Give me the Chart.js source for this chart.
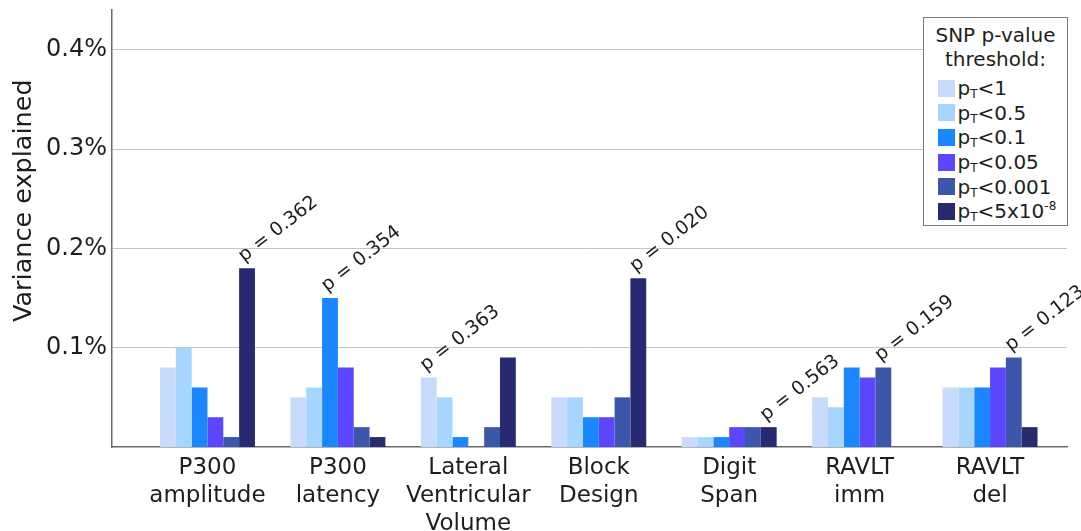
<!DOCTYPE html>
<html>
<head>
<meta charset="utf-8">
<script src="https://cdn.jsdelivr.net/npm/chart.js@4/dist/chart.umd.min.js"></script>
<style>
  html, body { margin: 0; padding: 0; background: #fff; }
  #wrap { position: relative; width: 1081px; height: 531px; overflow: hidden; }
  #legend {
    position: absolute; left: 923px; top: 17px; width: 145px; height: 209px;
    box-sizing: border-box; border: 1.5px solid #7a7a7a; background: #fff;
    font-family: 'DejaVu Sans', sans-serif; color: #1e1e1e;
  }
  #legend .title { font-size: 20px; line-height: 24px; text-align: center; padding-top: 5px; }
  #legend .row { display: flex; align-items: center; height: 24.6px; font-size: 20px; padding-left: 13.5px; }
  #legend .title + .row { margin-top: 5px; }
  #legend .sw { width: 17px; height: 17px; margin-right: 3px; flex: none; }
  #legend sub { font-size: 12px; vertical-align: -3px; line-height: 0; }
  #legend sup { font-size: 12px; vertical-align: 8px; line-height: 0; }
</style>
</head>
<body>
<div id="wrap">
  <canvas id="chart" width="1081" height="531"></canvas>
  <div id="legend"></div>
</div>
<script>
// Trait groups along the x axis (multi-line labels)
const categories = [
  ['P300', 'amplitude'],
  ['P300', 'latency'],
  ['Lateral', 'Ventricular', 'Volume'],
  ['Block', 'Design'],
  ['Digit', 'Span'],
  ['RAVLT', 'imm'],
  ['RAVLT', 'del']
];

// SNP p-value thresholds (one series each)
const thresholds = ['1', '0.5', '0.1', '0.05', '0.001', '5x10^-8'];

// Variance explained (%) per trait, one array per threshold
const varPT1     = [0.08, 0.05, 0.07, 0.05, 0.01, 0.05, 0.06];
const varPT05    = [0.10, 0.06, 0.05, 0.05, 0.01, 0.04, 0.06];
const varPT01    = [0.06, 0.15, 0.01, 0.03, 0.01, 0.08, 0.06];
const varPT005   = [0.03, 0.08, 0.00, 0.03, 0.02, 0.07, 0.08];
const varPT0001  = [0.01, 0.02, 0.02, 0.05, 0.02, 0.08, 0.09];
const varPT5e8   = [0.18, 0.01, 0.09, 0.17, 0.02, 0.00, 0.02];
const seriesValues = [varPT1, varPT05, varPT01, varPT005, varPT0001, varPT5e8];

const seriesColors = ['#c8dbfc', '#a6d5fe', '#1a87ff', '#5c47fe', '#3c57a9', '#282a71'];

// p-value of the best threshold per trait, and which threshold it belongs to
const pValueText = ['p = 0.362', 'p = 0.354', 'p = 0.363', 'p = 0.020', 'p = 0.563', 'p = 0.159', 'p = 0.123'];
const pValueSeries = [5, 2, 0, 5, 5, 4, 4];

// y axis tick values (%)
const yTicks = [0.1, 0.2, 0.3, 0.4];

const FONT = "'DejaVu Sans', sans-serif";
const TEXT = '#1e1e1e';

const datasets = seriesValues.map((vals, s) => ({
  label: 'pT<' + thresholds[s],
  data: vals.map((v, i) => ({ x: i, y: v })),
  backgroundColor: seriesColors[s],
  borderWidth: 0,
  categoryPercentage: 0.728,
  barPercentage: 1.0
}));

// Rotated p-value labels above the chosen bar of each trait
const pValueLabels = {
  id: 'pValueLabels',
  afterDatasetsDraw(chart) {
    const ctx = chart.ctx;
    ctx.save();
    ctx.font = '19px ' + FONT;
    ctx.fillStyle = TEXT;
    ctx.textAlign = 'left';
    ctx.textBaseline = 'alphabetic';
    pValueText.forEach((txt, i) => {
      const bar = chart.getDatasetMeta(pValueSeries[i]).data[i];
      const x0 = bar.x - bar.width / 2 + 5;
      const y0 = bar.y - 6;
      ctx.save();
      ctx.translate(x0, y0);
      ctx.rotate(-38 * Math.PI / 180);
      ctx.fillText(txt, 0, 0);
      ctx.restore();
    });
    ctx.restore();
  }
};

// Vertical axis title
const yTitle = {
  id: 'yTitle',
  afterDraw(chart) {
    const ctx = chart.ctx;
    ctx.save();
    ctx.font = '25.5px ' + FONT;
    ctx.fillStyle = TEXT;
    ctx.textAlign = 'center';
    ctx.textBaseline = 'alphabetic';
    ctx.translate(31, chart.scales.y.getPixelForValue(0.248));
    ctx.rotate(-Math.PI / 2);
    ctx.fillText('Variance explained', 0, 0);
    ctx.restore();
  }
};

const chart = new Chart(document.getElementById('chart'), {
  type: 'bar',
  data: { datasets },
  options: {
    responsive: false,
    animation: false,
    devicePixelRatio: 1,
    layout: { padding: { left: 0, right: 14, top: 10, bottom: 0 } },
    plugins: { legend: { display: false }, tooltip: { enabled: false } },
    scales: {
      x: {
        type: 'linear',
        min: -0.732,
        max: 6.59,
        offset: false,
        grid: { display: false },
        border: { display: true, color: '#6a6a6a', width: 1.5 },
        afterBuildTicks: s => { s.ticks = categories.map((c, i) => ({ value: i })); },
        afterFit: s => { s.height = 84; s.paddingLeft = 0; s.paddingRight = 0; },
        ticks: {
          autoSkip: false,
          maxRotation: 0,
          minRotation: 0,
          padding: -1,
          color: TEXT,
          font: { family: FONT, size: 23, lineHeight: 1.217 },
          callback: v => categories[v]
        }
      },
      y: {
        min: 0,
        max: 0.44,
        grid: { color: '#c4c4c4', lineWidth: 1, drawTicks: false },
        border: { display: true, color: '#6a6a6a', width: 1.5 },
        afterBuildTicks: s => { s.ticks = yTicks.map(v => ({ value: v })); },
        afterFit: s => { s.width = 112; s.paddingTop = 0; s.paddingBottom = 0; },
        ticks: {
          padding: 5,
          color: TEXT,
          font: { family: FONT, size: 24 },
          callback: v => v.toFixed(1) + '%'
        }
      }
    }
  },
  plugins: [pValueLabels, yTitle]
});

// Legend built from the chart's own datasets
(function buildLegend() {
  const box = document.getElementById('legend');
  let html = '<div class="title">SNP p-value<br>threshold:</div>';
  chart.data.datasets.forEach((ds, s) => {
    const t = thresholds[s].replace(/10\^(-?\d+)/, '10<sup>$1</sup>');
    html += '<div class="row"><span class="sw" style="background:' + ds.backgroundColor +
            '"></span><span>p<sub>T</sub>&lt;' + t + '</span></div>';
  });
  box.innerHTML = html;
})();
</script>
</body>
</html>
